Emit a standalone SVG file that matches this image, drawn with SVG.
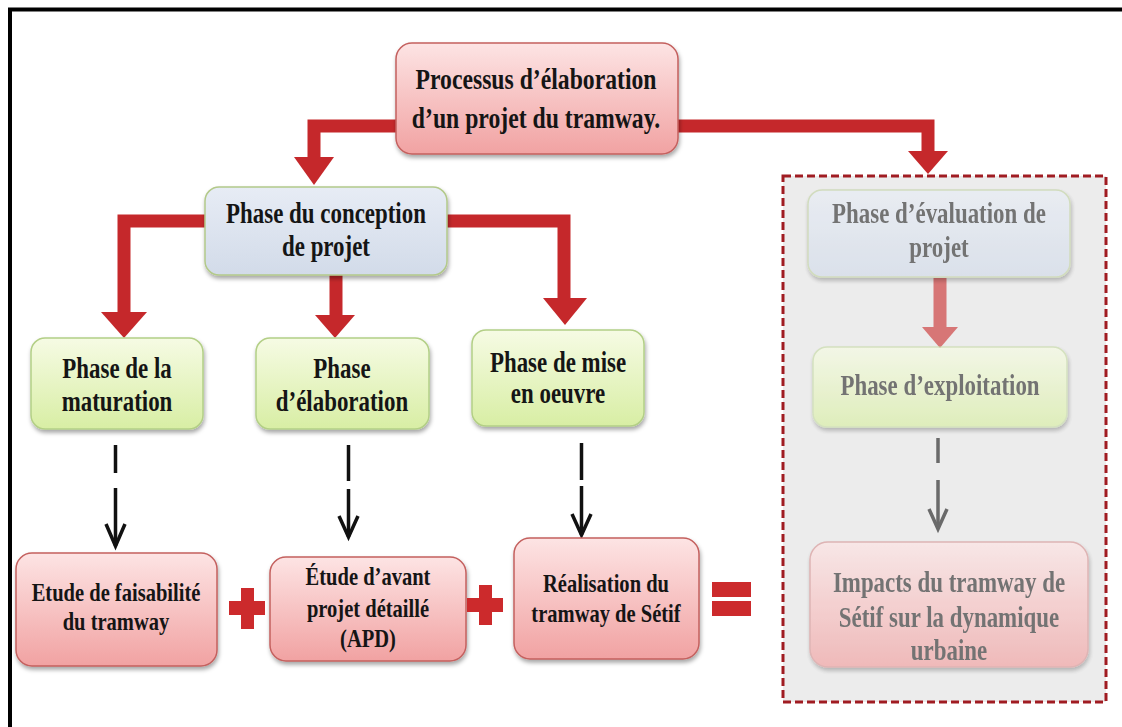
<svg xmlns="http://www.w3.org/2000/svg" width="1122" height="727" viewBox="0 0 1122 727">
<defs>
<linearGradient id="gPink" x1="0" y1="0" x2="0" y2="1"><stop offset="0" stop-color="#fde4e4"/><stop offset="1" stop-color="#f1a2a2"/></linearGradient>
<linearGradient id="gBlue" x1="0" y1="0" x2="0" y2="1"><stop offset="0" stop-color="#e7ecf5"/><stop offset="1" stop-color="#d2dbe9"/></linearGradient>
<linearGradient id="gGreen" x1="0" y1="0" x2="0" y2="1"><stop offset="0" stop-color="#f6fbe4"/><stop offset="1" stop-color="#d8eea4"/></linearGradient>
<filter id="sh" x="-10%" y="-10%" width="125%" height="130%"><feDropShadow dx="1" dy="3" stdDeviation="2" flood-color="#000" flood-opacity="0.35"/></filter>
<style>
.t{font-family:"Liberation Serif","Times New Roman",serif;font-weight:bold;text-anchor:middle;fill:#151515}
.f29{font-size:30px}.f28{font-size:29px}.f25{font-size:26px}
.pink{fill:url(#gPink);stroke:#c4605e;stroke-width:1.5}
.blue{fill:url(#gBlue);stroke:#b3c98a;stroke-width:1.5}
.green{fill:url(#gGreen);stroke:#b3cf86;stroke-width:1.5}
.red{fill:none;stroke:#c5282b;stroke-width:13}
.redh{fill:#c5282b}
.dash{fill:none;stroke:#111;stroke-width:3.5}
.chev{fill:none;stroke:#111;stroke-width:3.5;stroke-linejoin:miter}
.sym{fill:#cc2a2c}
.fade .t{fill:#555}
</style>
</defs>
<rect width="1122" height="727" fill="#fff"/>
<path d="M10 727 V9.5 H1122" fill="none" stroke="#000" stroke-width="4"/>

<g id="eval-group">
<rect x="783" y="176" width="323" height="526" fill="#ececec" stroke="#a01c22" stroke-width="3" stroke-dasharray="8 4"/>
</g>

<g id="connectors">
<path class="red" d="M397 126 H314 V158"/>
<polygon class="redh" points="294,157 334,157 314,185"/>
<path class="red" d="M678 126 H928 V152"/>
<polygon class="redh" points="908,151 948,151 928,174"/>
<path class="red" d="M205 221 H124 V313"/>
<polygon class="redh" points="101,312 147,312 124,338"/>
<path class="red" d="M336 275 V316"/>
<polygon class="redh" points="315,315 355,315 335,338"/>
<path class="red" d="M447 221 H564 V299"/>
<polygon class="redh" points="543,298 587,298 565,325"/>
<path d="M940 278 V328" fill="none" stroke="#d77676" stroke-width="13"/>
<polygon points="922,327 958,327 940,348" fill="#d77676"/>
<path class="dash" d="M115.5 445 V473 M115.5 488 V546"/>
<polyline class="chev" points="106,524 115.5,546 125,524"/>
<path class="dash" d="M348.5 445 V481 M348.5 489 V537"/>
<polyline class="chev" points="339,516 348.5,537 358,516"/>
<path class="dash" d="M581.5 443 V480 M581.5 486 V535"/>
<polyline class="chev" points="572,514 581.5,535 591,514"/>
<path d="M938 438 V463 M938 480 V529" fill="none" stroke="#6a6a6a" stroke-width="3.5"/>
<polyline points="929,509 938,529 947,509" fill="none" stroke="#6a6a6a" stroke-width="3.5"/>
</g>

<g id="n-processus">
<rect class="pink" x="396" y="43" width="282" height="111" rx="16" filter="url(#sh)"/>
<text class="t f29" transform="translate(536 89) scale(0.79 1)">Processus d’élaboration</text>
<text class="t f29" transform="translate(536 128) scale(0.79 1)">d’un projet du tramway.</text>
</g>

<g id="n-conception">
<rect class="blue" x="205" y="187" width="242" height="88" rx="14" filter="url(#sh)"/>
<text class="t f28" transform="translate(326 223) scale(0.79 1)">Phase du conception</text>
<text class="t f28" transform="translate(326 256) scale(0.79 1)">de projet</text>
</g>

<g id="n-maturation">
<rect class="green" x="31" y="338" width="172" height="91" rx="14" filter="url(#sh)"/>
<text class="t f28" transform="translate(117 378) scale(0.79 1)">Phase de la</text>
<text class="t f28" transform="translate(117 411) scale(0.79 1)">maturation</text>
</g>

<g id="n-elaboration">
<rect class="green" x="256" y="338" width="173" height="91" rx="14" filter="url(#sh)"/>
<text class="t f28" transform="translate(342 378) scale(0.79 1)">Phase</text>
<text class="t f28" transform="translate(342 411) scale(0.79 1)">d’élaboration</text>
</g>

<g id="n-mise">
<rect class="green" x="472" y="330" width="172" height="96" rx="14" filter="url(#sh)"/>
<text class="t f28" transform="translate(558 372) scale(0.79 1)">Phase de mise</text>
<text class="t f28" transform="translate(558 403) scale(0.79 1)">en oeuvre</text>
</g>

<g id="n-faisabilite">
<rect class="pink" x="16" y="553" width="201" height="113" rx="16" filter="url(#sh)"/>
<text class="t f25" transform="translate(116 601) scale(0.79 1)">Etude de faisabilité</text>
<text class="t f25" transform="translate(116 630) scale(0.79 1)">du tramway</text>
</g>

<g id="n-apd">
<rect class="pink" x="270" y="557" width="196" height="104" rx="16" filter="url(#sh)"/>
<text class="t f25" transform="translate(368 585) scale(0.79 1)">Étude d’avant</text>
<text class="t f25" transform="translate(368 617) scale(0.79 1)">projet détaillé</text>
<text class="t f25" transform="translate(368 647) scale(0.79 1)">(APD)</text>
</g>

<g id="n-realisation">
<rect class="pink" x="514" y="538" width="185" height="121" rx="16" filter="url(#sh)"/>
<text class="t f25" transform="translate(606 592) scale(0.79 1)">Réalisation du</text>
<text class="t f25" transform="translate(606 622) scale(0.79 1)">tramway de Sétif</text>
</g>

<g id="symbols">
<rect class="sym" x="241" y="588" width="13" height="41"/>
<rect class="sym" x="229" y="601" width="36" height="14"/>
<rect class="sym" x="479" y="585" width="13" height="40"/>
<rect class="sym" x="467" y="598" width="36" height="14"/>
<rect class="sym" x="712" y="582" width="39" height="15"/>
<rect class="sym" x="712" y="601" width="39" height="15"/>
</g>

<g class="fade" opacity="0.8">
<g id="n-evaluation">
<rect x="808" y="190" width="262" height="87" rx="14" fill="url(#gBlue)" stroke="#c5d4a8" stroke-width="1.5" filter="url(#sh)" opacity="0.85"/>
<text class="t f28" transform="translate(939 223) scale(0.79 1)">Phase d’évaluation de</text>
<text class="t f28" transform="translate(939 257) scale(0.79 1)">projet</text>
</g>
<g id="n-exploitation">
<rect x="813" y="347" width="254" height="80" rx="14" fill="url(#gGreen)" stroke="#c9dcaa" stroke-width="1.5" filter="url(#sh)" opacity="0.85"/>
<text class="t f28" transform="translate(940 395) scale(0.79 1)">Phase d’exploitation</text>
</g>
<g id="n-impacts">
<rect x="810" y="542" width="278" height="125" rx="18" fill="url(#gPink)" stroke="#d89a9a" stroke-width="1.5" filter="url(#sh)" opacity="0.85"/>
<text class="t f28" transform="translate(949 592) scale(0.79 1)">Impacts du tramway de</text>
<text class="t f28" transform="translate(949 627) scale(0.79 1)">Sétif sur la dynamique</text>
<text class="t f28" transform="translate(949 660) scale(0.79 1)">urbaine</text>
</g>
</g>
</svg>
